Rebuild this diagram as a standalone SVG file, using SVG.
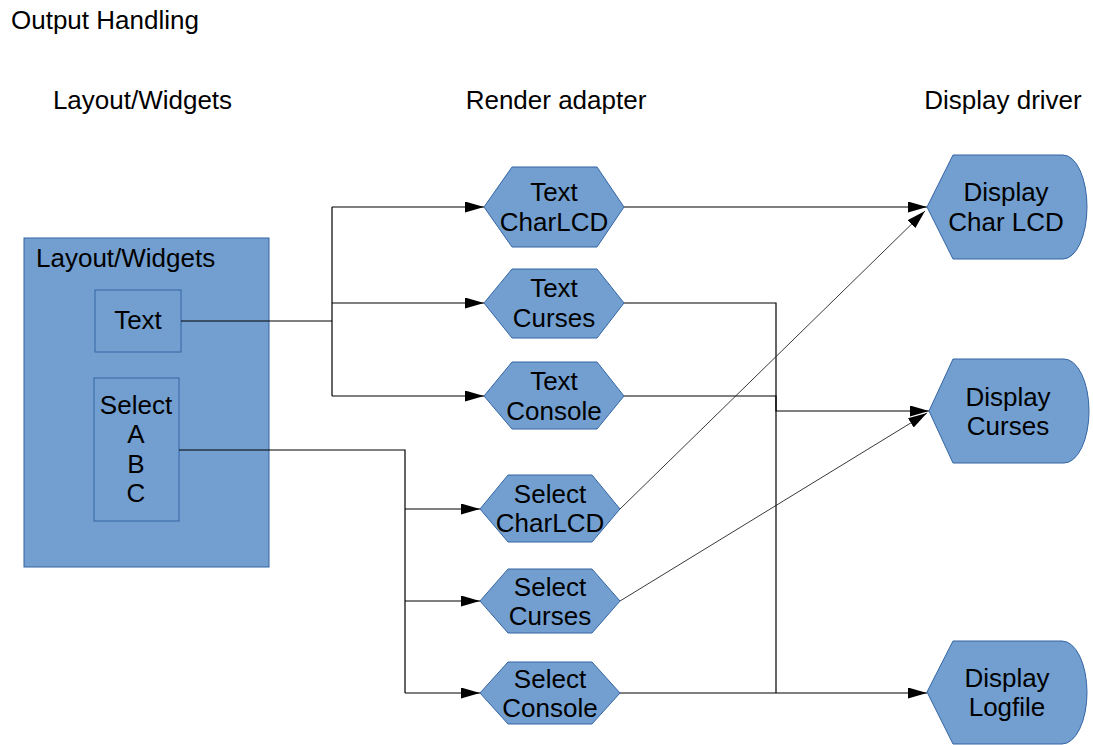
<svg xmlns="http://www.w3.org/2000/svg" width="1093" height="745" viewBox="0 0 1093 745">
<style>
.t{font-family:"Liberation Sans",Arial,sans-serif;font-size:26px;fill:#000}
.c{text-anchor:middle}
.n{fill:#729fcf;stroke:#3465a4;stroke-width:1}
.l{fill:none;stroke:#000;stroke-width:1.2}
.d{fill:none;stroke:#222;stroke-width:0.9}
</style>
<defs>
<marker id="a" markerUnits="userSpaceOnUse" markerWidth="20" markerHeight="12" refX="19" refY="5.5" orient="auto">
<path d="M0,0 L19,5.5 L0,11 Z" fill="#000"/>
</marker>
</defs>
<rect width="1093" height="745" fill="#fff"/>
<text class="t" x="11" y="29">Output Handling</text>
<text class="t c" x="142.5" y="109">Layout/Widgets</text>
<text class="t c" x="556" y="109">Render adapter</text>
<text class="t c" x="1003" y="109">Display driver</text>

<g id="layout">
<rect class="n" x="24" y="238" width="245" height="329"/>
<text class="t" x="36" y="267">Layout/Widgets</text>
</g>
<g id="w-text">
<rect class="n" x="95" y="290" width="86" height="62"/>
<text class="t c" x="138" y="329">Text</text>
</g>
<g id="w-select">
<rect class="n" x="94" y="378" width="85" height="143"/>
<text class="t c" x="136" y="414">Select</text>
<text class="t c" x="136" y="443">A</text>
<text class="t c" x="136" y="473">B</text>
<text class="t c" x="136" y="502">C</text>
</g>

<g id="connectors">
<polyline class="l" points="181,321 332,321"/>
<polyline class="l" points="332,207 332,396"/>
<polyline class="l" points="332,207 484,207" marker-end="url(#a)"/>
<polyline class="l" points="332,303 484,303" marker-end="url(#a)"/>
<polyline class="l" points="332,396 484,396" marker-end="url(#a)"/>
<polyline class="l" points="179,450 405,450 405,693"/>
<polyline class="l" points="405,509 480,509" marker-end="url(#a)"/>
<polyline class="l" points="405,601 480,601" marker-end="url(#a)"/>
<polyline class="l" points="405,693 480,693" marker-end="url(#a)"/>
<polyline class="l" points="624,207 927,207" marker-end="url(#a)"/>
<polyline class="l" points="624,303 776,303 776,411 929,411" marker-end="url(#a)"/>
<polyline class="l" points="624,396 776,396 776,693"/>
<polyline class="l" points="620,693 927,693" marker-end="url(#a)"/>
<line class="d" x1="620" y1="509" x2="925" y2="211" marker-end="url(#a)"/>
<line class="d" x1="620" y1="601" x2="927" y2="413" marker-end="url(#a)"/>
</g>

<g id="r-text-charlcd">
<polygon class="n" points="484,207 512,167 597,167 624,207 597,247 512,247"/>
<text class="t c" x="554" y="201">Text</text>
<text class="t c" x="554" y="231">CharLCD</text>
</g>
<g id="r-text-curses">
<polygon class="n" points="484,303 512,269 597,269 624,303 597,338 512,338"/>
<text class="t c" x="554" y="297">Text</text>
<text class="t c" x="554" y="327">Curses</text>
</g>
<g id="r-text-console">
<polygon class="n" points="484,396 512,362 597,362 624,396 597,429 512,429"/>
<text class="t c" x="554" y="390">Text</text>
<text class="t c" x="554" y="420">Console</text>
</g>
<g id="r-select-charlcd">
<polygon class="n" points="480,509 508,475 592,475 620,509 592,542 508,542"/>
<text class="t c" x="550" y="503">Select</text>
<text class="t c" x="550" y="532">CharLCD</text>
</g>
<g id="r-select-curses">
<polygon class="n" points="480,601 508,569 592,569 620,601 592,633 508,633"/>
<text class="t c" x="550" y="596">Select</text>
<text class="t c" x="550" y="625">Curses</text>
</g>
<g id="r-select-console">
<polygon class="n" points="480,693 508,662 592,662 620,693 592,724 508,724"/>
<text class="t c" x="550" y="688">Select</text>
<text class="t c" x="550" y="717">Console</text>
</g>

<g id="d-charlcd">
<path class="n" d="M927,207 L953,155 L1063,155 A24,52 0 0 1 1063,259 L953,259 Z"/>
<text class="t c" x="1006" y="201">Display</text>
<text class="t c" x="1006" y="231">Char LCD</text>
</g>
<g id="d-curses">
<path class="n" d="M929,411 L953,359 L1064,359 A25,52 0 0 1 1064,463 L953,463 Z"/>
<text class="t c" x="1008" y="406">Display</text>
<text class="t c" x="1008" y="435">Curses</text>
</g>
<g id="d-logfile">
<path class="n" d="M927,692 L953,641 L1062,641 A25,51.5 0 0 1 1062,744 L953,744 Z"/>
<text class="t c" x="1007" y="687">Display</text>
<text class="t c" x="1007" y="716">Logfile</text>
</g>
</svg>
